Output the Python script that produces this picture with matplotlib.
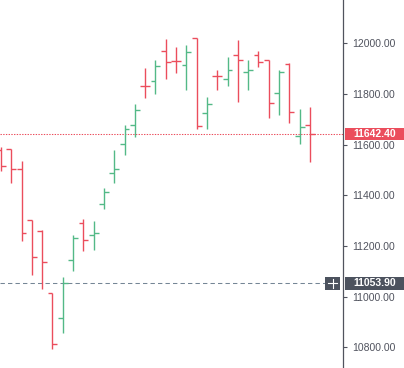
import matplotlib
matplotlib.use("Agg")
import matplotlib.pyplot as plt
import matplotlib.transforms as mtransforms
from matplotlib.patches import Rectangle

# OHLC bars
opens = [11580, 11583, 11504, 11303, 11259, 11015, 10916, 11145, 11291, 11243, 11366,
         11488, 11602, 11677, 11831, 11851, 11969, 11930, 11914, 12021, 11725, 11871,
         11859, 11954, 11886, 11954, 11934, 11804, 11918, 11634, 11677]
highs = [11590, 11583, 11535, 11303, 11263, 11015, 11078, 11243, 11307, 11299, 11429,
         11579, 11677, 11760, 11902, 11934, 12017, 11985, 11993, 12021, 11788, 11894,
         11946, 12013, 11934, 11969, 11934, 11894, 11922, 11740, 11748]
lows = [11496, 11449, 11218, 11086, 11030, 10794, 10857, 11101, 11180, 11184, 11346,
        11449, 11559, 11630, 11784, 11800, 11859, 11882, 11815, 11662, 11662, 11815,
        11831, 11768, 11815, 11906, 11705, 11717, 11685, 11602, 11531]
closes = [11516, 11504, 11251, 11157, 11137, 10813, 11053.9, 11232, 11224, 11251, 11413,
          11504, 11662, 11737, 11830, 11910, 11926, 11928, 11965, 11673, 11760, 11869,
          11894, 11934, 11894, 11926, 11764, 11886, 11729, 11669, 11642.4]

y_ticks = [10800, 11000, 11200, 11400, 11600, 11800, 12000]
last_price = 11642.40
crosshair_price = 11053.90

UP = "#53b987"
DOWN = "#eb4d5c"
AXIS = "#50535e"

W, H = 404, 368
AX_W = 343  # px, plot area width
fig = plt.figure(figsize=(W / 100, H / 100), dpi=100)
fig.patch.set_facecolor("white")
ax = fig.add_axes([0, 0, AX_W / W, 1])
ax.set_facecolor("white")

idx = list(range(len(opens)))
colors = [UP if c >= o else DOWN for o, c in zip(opens, closes)]
tick = 0.47
ax.vlines(idx, lows, highs, colors=colors, linewidth=1.0)
ax.hlines(opens, [i - tick for i in idx], idx, colors=colors, linewidth=1.0)
ax.hlines(closes, idx, [i + tick for i in idx], colors=colors, linewidth=1.0)

ax.set_xlim(-0.097, -0.097 + AX_W / 10.3)
ax.set_ylim(10718.7, 12170.5)

for s in ["top", "left", "bottom"]:
    ax.spines[s].set_visible(False)
ax.spines["right"].set_color(AXIS)
ax.spines["right"].set_linewidth(0.9)
ax.set_xticks([])
ax.yaxis.tick_right()
ax.set_yticks(y_ticks)
ax.set_yticklabels([f"{v:.2f}" for v in y_ticks])
ax.tick_params(axis="y", length=3, width=0.8, color=AXIS, pad=3.5,
               labelsize=7.5, labelcolor="#50535e")
for lbl in ax.get_yticklabels():
    lbl.set_fontfamily("Liberation Sans")

blend = mtransforms.blended_transform_factory(ax.transAxes, ax.transData)
px = 1 / AX_W  # one pixel in axes fraction
upp = (12170.5 - 10718.7) / H  # price units per pixel

# last price line + label
ax.plot([0, 1], [last_price] * 2, transform=blend, color=DOWN, lw=0.75,
        dashes=(1.3, 1.3), zorder=1)
ax.add_patch(Rectangle((345 * px, last_price - 6 * upp), 60 * px, 12 * upp,
                       transform=blend, facecolor=DOWN, edgecolor="none",
                       clip_on=False, zorder=5))
ax.text(375 * px, last_price, f"{last_price:.2f}", transform=blend, ha="center",
        va="center", color="white", fontsize=7.5, fontweight="bold",
        fontfamily="Liberation Sans", zorder=6, clip_on=False)

# crosshair line + labels
ax.plot([0, 325 * px], [crosshair_price] * 2, transform=blend, color="#758696",
        lw=0.75, dashes=(4.2, 3.0), zorder=1)
ax.add_patch(Rectangle((345 * px, crosshair_price - 6.5 * upp), 60 * px, 13 * upp,
                       transform=blend, facecolor="#4c525e", edgecolor="none",
                       clip_on=False, zorder=5))
ax.text(375 * px, crosshair_price, f"{crosshair_price:.2f}", transform=blend,
        ha="center", va="center", color="white", fontsize=7.5, fontweight="bold",
        fontfamily="Liberation Sans", zorder=6, clip_on=False)
ax.add_patch(Rectangle((325 * px, crosshair_price - 6.5 * upp), 15 * px, 13 * upp,
                       transform=blend, facecolor="#4c525e", edgecolor="none",
                       clip_on=False, zorder=5))
ax.plot([328 * px, 337 * px], [crosshair_price] * 2, transform=blend, color="white",
        lw=0.8, zorder=6, clip_on=False)
ax.plot([332.5 * px] * 2, [crosshair_price - 4.5 * upp, crosshair_price + 4.5 * upp],
        transform=blend, color="white", lw=0.8, zorder=6, clip_on=False)

fig.savefig("out.png", dpi=100)
